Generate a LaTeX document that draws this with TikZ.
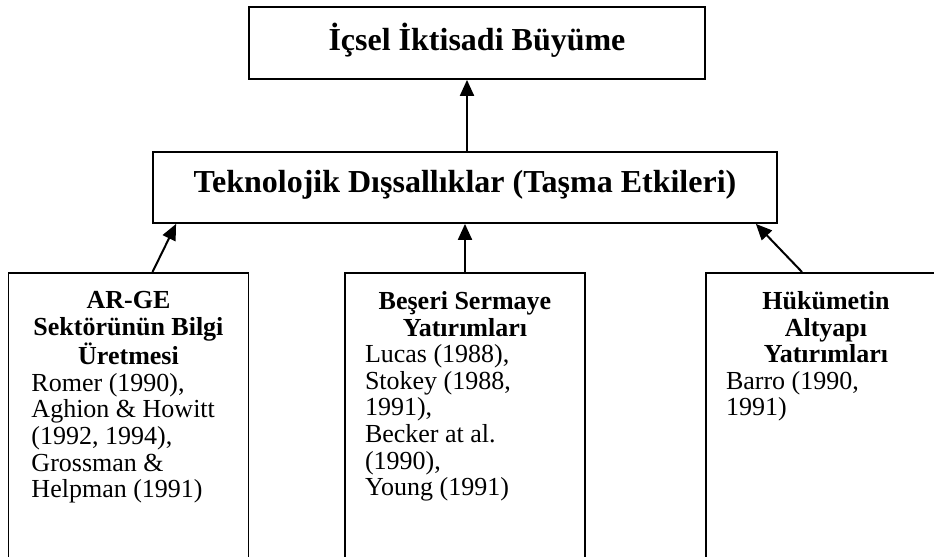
\documentclass[tikz,border=0pt]{standalone}
\usepackage{fontspec}
\setmainfont{Liberation Serif}
\usetikzlibrary{arrows.meta}

\begin{document}
\begin{tikzpicture}[x=0.5pt,y=-0.5pt,
  box/.style={draw,line width=0.9pt,inner sep=0pt},
  headbox/.style={box,font=\fontsize{16}{19}\selectfont\bfseries,text depth=6pt,minimum width=#1},
  srcbox/.style={box,anchor=north,text width=100pt,inner xsep=10pt,inner ysep=9.3pt,
    align=flush left,text depth=200pt,font=\fontsize{13}{13.3}\selectfont},
  flow/.style={line width=1pt,-{Triangle[length=8pt,width=7pt]}}]
\useasboundingbox (0,0) rectangle (934,557);
\clip (0,0) rectangle (934,557);
\path (477,43) node[headbox=228pt,minimum height=36pt] (growth) {İçsel İktisadi Büyüme}
		(465,187.5) node[headbox=312pt,minimum height=35.5pt] (tech) {Teknolojik Dışsallıklar (Taşma Etkileri)}
		(128.5,272) node[srcbox,text width=97pt,inner xsep=11.5pt] (rnd) {{\centering\bfseries AR-GE\\Sektörünün Bilgi\\Üretmesi\par}
			Romer (1990),\\Aghion \& Howitt\\(1992, 1994),\\Grossman \&\\Helpman (1991)}
		(465,272) node[srcbox] (human) {{\centering\bfseries Beşeri Sermaye\\Yatırımları\par}
			Lucas (1988),\\Stokey (1988,\\1991),\\Becker at al.\\(1990),\\Young (1991)}
		(826,272) node[srcbox] (infra) {{\centering\bfseries Hükümetin\\Altyapı\\Yatırımları\par}
			Barro (1990,\\1991)}
		;
\draw [flow] ([xshift=1pt]tech.north) -- ([xshift=1pt]tech.north |- growth.south);
\draw [flow] ([xshift=12pt]rnd.north) -- ([xshift=12pt]tech.south west);
\draw [flow] (human.north) -- (tech.south);
\draw [flow] ([xshift=-12pt]infra.north) -- ([xshift=-11pt]tech.south east);
\end{tikzpicture}
\end{document}
